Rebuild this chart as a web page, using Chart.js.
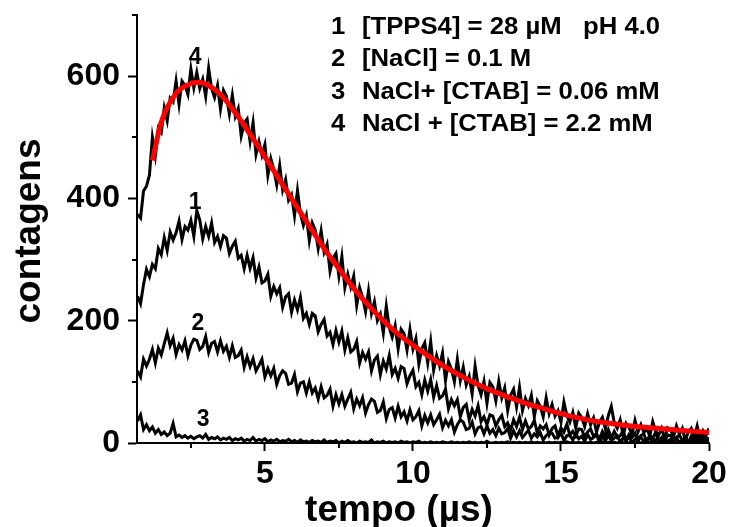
<!DOCTYPE html>
<html><head><meta charset="utf-8">
<script src="https://cdn.jsdelivr.net/npm/chart.js@4"></script>
<style>html,body{margin:0;padding:0;background:#fff;}#wrap{width:730px;height:527px;}</style>
</head><body><div id="wrap"><canvas id="c" width="730" height="527"></canvas></div>
<script>
// sampling times (µs): 0.7 .. 20.0, step 0.1
const tempo = Array.from({length: 194}, (_, i) => +(0.7 + 0.1 * i).toFixed(1));

const curva4 = [
  374,368,412,420,438,500,470,515,508,548,
  527,564,558,592,554,592,585,570,612,581,
  606,580,595,567,613,580,565,585,546,577,
  567,538,569,534,547,502,523,530,493,524,
  472,493,471,488,438,465,447,422,454,414,
  431,397,406,372,413,375,356,372,331,360,
  348,318,347,312,325,281,302,310,273,305,
  254,276,255,273,225,254,238,215,249,212,
  231,200,211,180,224,189,173,192,154,186,
  179,152,186,154,171,129,154,164,131,166,
  119,143,126,147,102,133,121,100,137,102,
  124,95,109,80,126,94,79,101,65,99,
  92,69,101,74,90,53,78,88,59,91,
  53,73,61,78,43,69,60,43,74,48,
  63,44,53,34,67,45,34,50,25,49,
  42,27,48,30,41,18,34,42,23,45,
  60,33,24,38,12,32,25,14,37,18,
  30,17,24,11,35,19,13,24,7,25,
  22,10,28,14,24,4,18,24,9,28,
  6,20,12,24
];
const curva1 = [
  240,228,259,284,272,292,285,318,308,336,
  315,345,332,344,363,333,354,348,364,338,
  380,365,334,354,338,360,328,338,321,339,
  335,310,322,330,302,307,285,307,286,303,
  270,288,262,265,276,240,256,244,254,222,
  239,244,214,234,218,238,204,212,194,212,
  208,182,194,202,175,181,161,184,165,183,
  152,172,149,153,166,131,148,137,149,118,
  136,142,112,134,121,143,112,122,106,125,
  122,97,110,119,92,99,79,103,85,104,
  75,94,73,77,88,56,71,61,71,43,
  58,63,38,55,44,61,35,43,30,46,
  44,28,38,45,27,33,21,38,27,42,
  22,36,23,27,37,17,28,23,30,13,
  24,28,11,25,18,31,13,19,11,23,
  22,10,18,23,11,15,6,19,11,22,
  8,19,9,12,20,4,14,9,16,2,
  12,15,1,13,7,18,3,9,2,13,
  12,2,9,13,4,8,1,11,4,13,
  2,12,4,9
];
const curva2 = [
  118,108,137,126,137,153,131,155,144,162,
  180,159,171,145,161,152,167,143,160,170,
  168,153,158,174,148,163,166,149,167,150,
  158,140,159,140,143,152,124,141,125,138,
  118,127,137,108,122,110,122,96,110,118,
  114,96,98,112,84,98,100,82,100,82,
  90,72,92,74,78,88,60,79,64,79,
  60,72,83,56,72,61,74,49,63,72,
  68,50,53,67,40,55,58,41,60,43,
  51,36,54,38,43,53,28,45,33,46,
  30,38,47,25,37,28,38,18,30,38,
  34,22,24,34,15,25,27,15,28,16,
  22,12,24,15,17,24,8,20,10,20,
  9,15,21,8,15,10,17,5,12,17,
  16,8,9,17,4,12,13,5,15,7,
  11,3,14,6,9,14,1,11,4,12,
  4,8,12,2,8,4,10,0,6,10,
  9,3,4,11,0,6,7,1,9,2,
  6,0,8,1,4,9,0,6,1,7,
  0,7,2,6
];
const curva3 = [
  36,46,22,30,20,26,16,22,14,18,
  12,16,32,10,13,9,12,8,11,7,
  10,12,8,14,6,9,7,10,5,8,
  6,9,4,7,5,8,3,6,4,9,
  3,6,4,7,2,5,3,6,2,4,
  3,6,2,4,1,5,2,3,1,4,
  2,3,1,5,1,3,2,4,0,3,
  1,4,1,2,0,3,1,2,1,5,
  0,2,1,3,0,2,1,2,0,3,
  1,2,0,2,1,3,0,1,0,2,
  0,1,0,2,1,0,2,0,1,0,
  1,0,2,0,1,0,1,0,3,0,
  0,1,0,1,0,2,0,1,0,1,
  0,1,0,2,0,1,0,1,0,1,
  0,1,0,1,0,2,0,1,0,1,
  0,1,0,1,0,1,0,2,0,1,
  0,1,0,1,0,1,0,1,0,1,
  0,1,0,1,0,2,0,1,0,1,
  0,1,0,1,0,1,0,1,0,1,
  0,1,0,1
];

// fitted curve (red) for series 4
const ajusteTempo = [1.2,1.5,2.0,2.5,2.75,3.0,3.5,4.0,4.5,5.0,5.5,6.0,6.5,7.0,7.5,8.0,8.5,9.0,9.5,10.0,
  10.5,11.0,11.5,12.0,12.5,13.0,13.5,14.0,14.5,15.0,15.5,16.0,16.5,17.0,17.5,18.0,18.5,19.0,19.5,20.0];
const ajuste4 = [462,525,572,588,590,587,570,540,505,468,430,392,355,318,285,253,225,200,178,160,
  143,127,113,100,89,79,70,62,55,48,42,37,33,30,27,25,23,21,19,17];

const xTicks = [5, 10, 15, 20];
const yTicks = [0, 200, 400, 600];
const xMinor = [2.5, 7.5, 12.5, 17.5];
const yMinor = [100, 300, 500, 700];

const legendNums = ['1', '2', '3', '4'];
const legendTexts = ['[TPPS4] = 28 \u00b5M   pH 4.0', '[NaCl] = 0.1 M', 'NaCl+ [CTAB] = 0.06 mM', 'NaCl + [CTAB] = 2.2 mM'];
const curveLabelText = ['4', '1', '2', '3'];
const curveLabelX = [2.64, 2.64, 2.74, 2.91];
const curveLabelY = [620, 382, 185, 28];

const FONT = '"Liberation Sans", Arial, Helvetica, sans-serif';

const pts = (xs, ys) => xs.map((x, i) => ({x: x, y: ys[i]}));

const overlay = {
  id: 'overlay',
  afterDraw(chart) {
    const ctx = chart.ctx, xs = chart.scales.x, ys = chart.scales.y, ca = chart.chartArea;
    ctx.save();
    ctx.strokeStyle = '#000'; ctx.lineWidth = 2;
    ctx.beginPath();
    xMinor.forEach(v => { const p = Math.round(xs.getPixelForValue(v)); ctx.moveTo(p, ca.bottom); ctx.lineTo(p, ca.bottom + 5); });
    yMinor.forEach(v => { const p = Math.round(ys.getPixelForValue(v)); ctx.moveTo(ca.left - 5, p); ctx.lineTo(ca.left, p); });
    ctx.stroke();

    ctx.fillStyle = '#000';
    ctx.textBaseline = 'alphabetic';
    ctx.font = 'bold 37px ' + FONT;
    ctx.textAlign = 'center';
    ctx.fillText('tempo (\u00b5s)', 399, 521);
    ctx.save();
    ctx.translate(40, 231);
    ctx.rotate(-Math.PI / 2);
    ctx.fillText('contagens', 0, 0);
    ctx.restore();

    ctx.font = 'bold 24px ' + FONT;
    ctx.textAlign = 'left';
    const base = [34, 66, 99, 131];
    const sx = 1.07;
    legendNums.forEach((n, i) => {
      ctx.save();
      ctx.translate(331, base[i]);
      ctx.scale(sx, 1);
      ctx.fillText(n, 0, 0);
      ctx.fillText(legendTexts[i], (362 - 331) / sx, 0);
      ctx.restore();
    });

    ctx.font = 'bold 23px ' + FONT;
    ctx.textAlign = 'center';
    curveLabelText.forEach((t, i) => {
      ctx.fillText(t, xs.getPixelForValue(curveLabelX[i]), ys.getPixelForValue(curveLabelY[i]));
    });
    ctx.restore();
  }
};

const blackDs = (data) => ({
  data: pts(tempo, data), borderColor: '#000', borderWidth: 3, pointRadius: 0,
  tension: 0, fill: false, order: 1, borderJoinStyle: 'miter'
});

new Chart(document.getElementById('c'), {
  type: 'line',
  data: {
    datasets: [
      { data: pts(ajusteTempo, ajuste4), borderColor: '#ff0000', borderWidth: 5, pointRadius: 0,
        cubicInterpolationMode: 'monotone', fill: false, order: 0, borderCapStyle: 'butt' },
      blackDs(curva4), blackDs(curva1), blackDs(curva2), blackDs(curva3)
    ]
  },
  options: {
    responsive: false, animation: false, devicePixelRatio: 1,
    layout: { padding: { top: 15, right: 21, left: 0, bottom: 0 } },
    plugins: { legend: { display: false }, tooltip: { enabled: false } },
    scales: {
      x: {
        type: 'linear', min: 0.68, max: 20,
        afterBuildTicks: s => { s.ticks = xTicks.map(v => ({value: v})); },
        afterFit: s => { s.height = 84; s.paddingLeft = 0; s.paddingRight = 0; },
        grid: { drawOnChartArea: false, drawTicks: true, tickLength: 8, tickWidth: 2, tickColor: '#000' },
        border: { display: true, color: '#000', width: 2 },
        ticks: { color: '#000', font: { family: FONT, size: 32, weight: 'bold' }, padding: 4, maxRotation: 0, autoSkip: false }
      },
      y: {
        min: 0, max: 700,
        afterBuildTicks: s => { s.ticks = yTicks.map(v => ({value: v})); },
        afterFit: s => { s.width = 137; s.paddingTop = 0; s.paddingBottom = 0; },
        grid: { drawOnChartArea: false, drawTicks: true, tickLength: 9, tickWidth: 2, tickColor: '#000' },
        border: { display: true, color: '#000', width: 2 },
        ticks: { color: '#000', font: { family: FONT, size: 32, weight: 'bold' }, padding: 8, autoSkip: false }
      }
    }
  },
  plugins: [overlay]
});
</script>
</body></html>
